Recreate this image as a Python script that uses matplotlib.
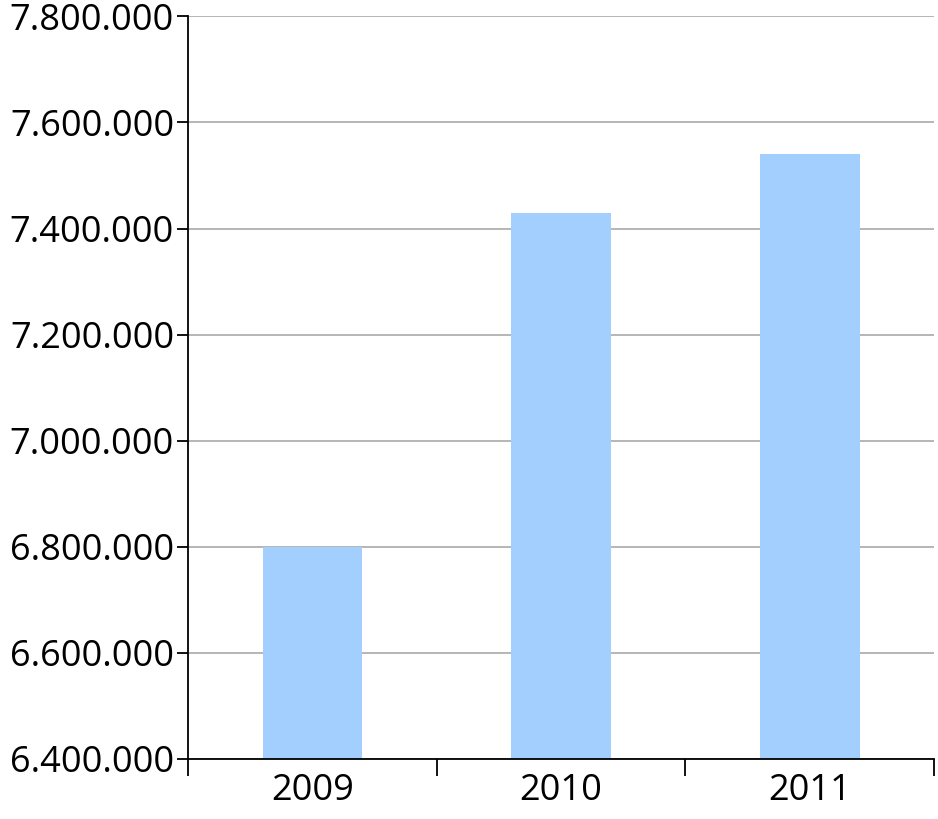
import matplotlib.pyplot as plt
from matplotlib.ticker import FuncFormatter

years = ['2009', '2010', '2011']
values = [6800000, 7430000, 7540000]
yticks = [6400000, 6600000, 6800000, 7000000, 7200000, 7400000, 7600000, 7800000]

plt.rcParams['font.family'] = ['Open Sans', 'DejaVu Sans']

fig = plt.figure(figsize=(9.38, 8.19), dpi=100)
ax = fig.add_axes([0.2004, 0.0733, 0.7956, 0.9067])

pos = range(len(years))
ax.bar(pos, values, width=0.4, color='#a3cfff', zorder=2)

ax.set_ylim(yticks[0], yticks[-1])
ax.set_yticks(yticks)
ax.yaxis.set_major_formatter(FuncFormatter(lambda v, p: f'{int(v):,}'.replace(',', '.')))
ax.grid(axis='y', color='#b0b0b0', linewidth=1.3, zorder=0)

ax.set_xlim(-0.5, len(years) - 0.5)
ax.set_xticks([i - 0.5 for i in range(len(years) + 1)])
ax.set_xticklabels([])
ax.set_xticks(list(pos), minor=True)
ax.set_xticklabels(years, minor=True)
ax.tick_params(axis='x', which='minor', length=0, labelsize=26, pad=10)
ax.tick_params(axis='x', which='major', length=12, width=1.3, direction='out')
ax.tick_params(axis='y', labelsize=26, length=8, width=1.3, direction='out', pad=2)

ax.spines['top'].set_visible(False)
ax.spines['right'].set_visible(False)
for s in ['left', 'bottom']:
    ax.spines[s].set_linewidth(1.3)
    ax.spines[s].set_color('black')

fig.savefig('out.png', dpi=100)
